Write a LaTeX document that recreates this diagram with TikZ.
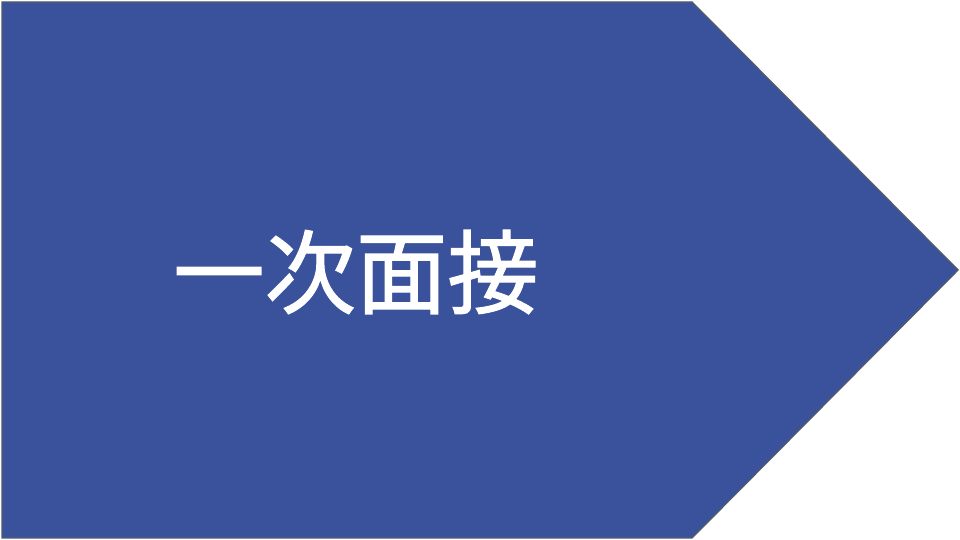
\documentclass[tikz,border=0pt]{standalone}
\usepackage{fontspec}
\newfontfamily\cjk{Noto Sans CJK JP}[FakeBold=1.2]
\usetikzlibrary{positioning}
\definecolor{stepblue}{RGB}{57,82,155}
\definecolor{edgegray}{RGB}{80,90,110}

\begin{document}
\begin{tikzpicture}
  \useasboundingbox (0,0) rectangle (9.6,5.4);
  \tikzset{stagelabel/.style={text=white, font=\cjk\fontsize{26}{30}\selectfont, inner sep=0pt}}

  \filldraw[fill=stepblue, draw=edgegray, line width=0.4pt] (0.02,5.38) -- (6.92,5.38) -- (9.58,2.7) -- (6.92,0.02) -- (0.02,0.02) -- cycle;

  \node[stagelabel] (stage) at (3.56,2.68) {一次面接};
\end{tikzpicture}
\end{document}
